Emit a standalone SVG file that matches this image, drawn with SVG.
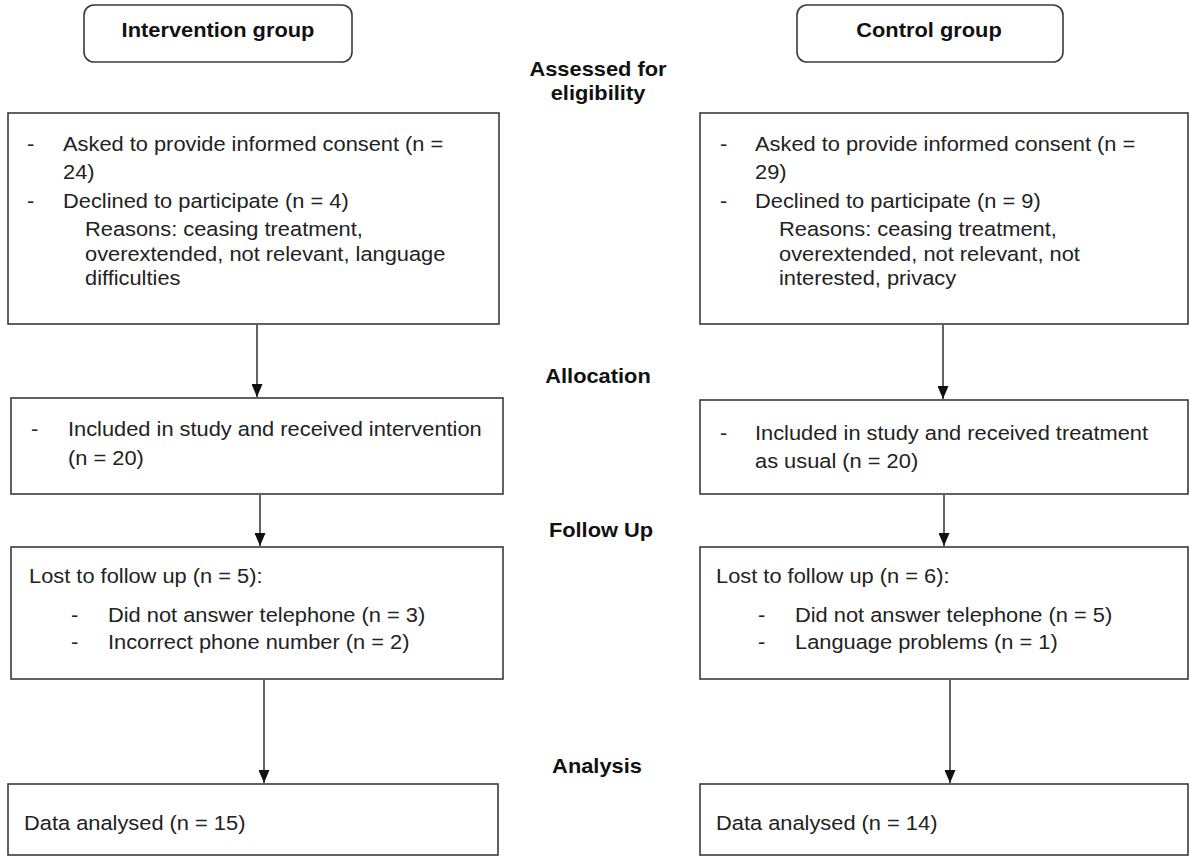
<svg xmlns="http://www.w3.org/2000/svg" width="1190" height="859" viewBox="0 0 1190 859">
<style>
.box{fill:#fff;stroke:#3a3a3a;stroke-width:1.6}
.t{font-family:"Liberation Sans",Arial,sans-serif;font-size:19.5px;fill:#222}
.b{font-family:"Liberation Sans",Arial,sans-serif;font-size:19.5px;font-weight:bold;fill:#111;text-anchor:middle}
.c{stroke:#222;stroke-width:1.4;fill:none;marker-end:url(#ah)}
</style>
<defs>
<marker id="ah" markerUnits="userSpaceOnUse" markerWidth="13" markerHeight="11" refX="13" refY="5.5" orient="auto">
<path d="M0,0 L13,5.5 L0,11 z" fill="#111"/>
</marker>
</defs>
<rect width="1190" height="859" fill="#fff"/>

<g id="label-intervention">
<rect class="box" x="84" y="5" width="268" height="57" rx="10"/>
<text class="b" transform="translate(218,37) scale(1.12,1)">Intervention group</text>
</g>
<g id="label-control">
<rect class="box" x="797" y="5" width="266" height="57" rx="10"/>
<text class="b" transform="translate(929,37) scale(1.12,1)">Control group</text>
</g>

<g id="stage-assessed">
<text class="b" transform="translate(598,76) scale(1.12,1)">Assessed for</text>
<text class="b" transform="translate(598,100) scale(1.12,1)">eligibility</text>
</g>
<g id="stage-allocation"><text class="b" transform="translate(598,383) scale(1.12,1)">Allocation</text></g>
<g id="stage-followup"><text class="b" transform="translate(601,537) scale(1.12,1)">Follow Up</text></g>
<g id="stage-analysis"><text class="b" transform="translate(597,773) scale(1.12,1)">Analysis</text></g>

<g id="int-consent">
<rect class="box" x="8" y="113" width="491" height="211"/>
<text class="t" transform="translate(27,151) scale(1.12,1)">-</text>
<text class="t" transform="translate(63,151) scale(1.12,1)">Asked to provide informed consent (n =</text>
<text class="t" transform="translate(63,179) scale(1.12,1)">24)</text>
<text class="t" transform="translate(27,208) scale(1.12,1)">-</text>
<text class="t" transform="translate(63,208) scale(1.12,1)">Declined to participate (n = 4)</text>
<text class="t" transform="translate(85,236) scale(1.12,1)">Reasons: ceasing treatment,</text>
<text class="t" transform="translate(85,261) scale(1.12,1)">overextended, not relevant, language</text>
<text class="t" transform="translate(85,285) scale(1.12,1)">difficulties</text>
</g>
<g id="ctl-consent">
<rect class="box" x="700" y="113" width="488" height="211"/>
<text class="t" transform="translate(720,151) scale(1.12,1)">-</text>
<text class="t" transform="translate(755,151) scale(1.12,1)">Asked to provide informed consent (n =</text>
<text class="t" transform="translate(755,179) scale(1.12,1)">29)</text>
<text class="t" transform="translate(720,208) scale(1.12,1)">-</text>
<text class="t" transform="translate(755,208) scale(1.12,1)">Declined to participate (n = 9)</text>
<text class="t" transform="translate(779,236) scale(1.12,1)">Reasons: ceasing treatment,</text>
<text class="t" transform="translate(779,261) scale(1.12,1)">overextended, not relevant, not</text>
<text class="t" transform="translate(779,285) scale(1.12,1)">interested, privacy</text>
</g>

<g id="int-allocation">
<rect class="box" x="11" y="398" width="492" height="96"/>
<text class="t" transform="translate(31,436) scale(1.12,1)">-</text>
<text class="t" transform="translate(68,436) scale(1.12,1)">Included in study and received intervention</text>
<text class="t" transform="translate(68,465) scale(1.12,1)">(n = 20)</text>
</g>
<g id="ctl-allocation">
<rect class="box" x="700" y="400" width="488" height="94"/>
<text class="t" transform="translate(720,440) scale(1.12,1)">-</text>
<text class="t" transform="translate(755,440) scale(1.12,1)">Included in study and received treatment</text>
<text class="t" transform="translate(755,468) scale(1.12,1)">as usual (n = 20)</text>
</g>

<g id="int-followup">
<rect class="box" x="11" y="547" width="492" height="132"/>
<text class="t" transform="translate(29,583) scale(1.12,1)">Lost to follow up (n = 5):</text>
<text class="t" transform="translate(71,622) scale(1.12,1)">-</text>
<text class="t" transform="translate(108,622) scale(1.12,1)">Did not answer telephone (n = 3)</text>
<text class="t" transform="translate(71,649) scale(1.12,1)">-</text>
<text class="t" transform="translate(108,649) scale(1.12,1)">Incorrect phone number (n = 2)</text>
</g>
<g id="ctl-followup">
<rect class="box" x="700" y="547" width="488" height="132"/>
<text class="t" transform="translate(716,583) scale(1.12,1)">Lost to follow up (n = 6):</text>
<text class="t" transform="translate(758,622) scale(1.12,1)">-</text>
<text class="t" transform="translate(795,622) scale(1.12,1)">Did not answer telephone (n = 5)</text>
<text class="t" transform="translate(758,649) scale(1.12,1)">-</text>
<text class="t" transform="translate(795,649) scale(1.12,1)">Language problems (n = 1)</text>
</g>

<g id="int-analysis">
<rect class="box" x="8" y="784" width="490" height="71"/>
<text class="t" transform="translate(24,830) scale(1.12,1)">Data analysed (n = 15)</text>
</g>
<g id="ctl-analysis">
<rect class="box" x="700" y="784" width="488" height="71"/>
<text class="t" transform="translate(716,830) scale(1.12,1)">Data analysed (n = 14)</text>
</g>

<g id="connectors">
<line class="c" x1="257" y1="325" x2="257" y2="397"/>
<line class="c" x1="260" y1="495" x2="260" y2="546"/>
<line class="c" x1="264" y1="680" x2="264" y2="783"/>
<line class="c" x1="943" y1="325" x2="943" y2="399"/>
<line class="c" x1="944" y1="495" x2="944" y2="546"/>
<line class="c" x1="950" y1="680" x2="950" y2="783"/>
</g>
</svg>
